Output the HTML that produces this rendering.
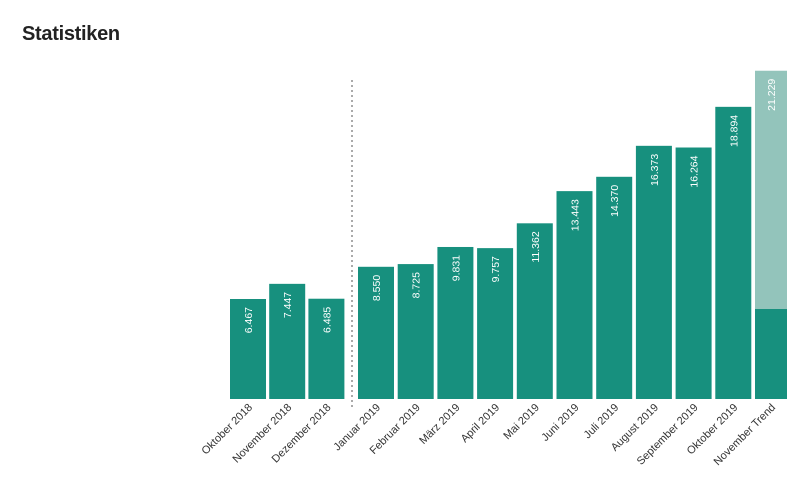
<!DOCTYPE html>
<html><head><meta charset="utf-8"><style>
body{margin:0;background:#fff;font-family:"Liberation Sans",sans-serif;}
h1{position:absolute;left:22px;top:23px;margin:0;font-size:20px;font-weight:bold;color:#222;letter-spacing:-0.3px}
</style></head><body>
<h1>Statistiken</h1>
<svg id="c" width="800" height="500" style="position:absolute;left:0;top:0"></svg>
<script>
const categories=["Oktober 2018","November 2018","Dezember 2018","Januar 2019","Februar 2019","März 2019","April 2019","Mai 2019","Juni 2019","Juli 2019","August 2019","September 2019","Oktober 2019","November Trend"];
const values=[6467,7447,6485,8550,8725,9831,9757,11362,13443,14370,16373,16264,18894,21229];
const labels=["6.467","7.447","6.485","8.550","8.725","9.831","9.757","11.362","13.443","14.370","16.373","16.264","18.894","21.229"];
const trendCurrent=[5820];
const svg=document.getElementById('c');const NS='http://www.w3.org/2000/svg';
const base=399,scale=100/6467;
function y(v){return base-v*scale;}
function x(i){return i<3?230+i*39.2:358+(i-3)*39.7;}
const bw=36;
function mk(t,a){const e=document.createElementNS(NS,t);for(const k in a)e.setAttribute(k,a[k]);svg.appendChild(e);return e;}
const sep=mk('line',{x1:352,x2:352,y1:80,y2:410,stroke:'#aaa','stroke-width':2,'stroke-dasharray':'2,3'});


values.forEach((v,i)=>{
 const trend=i===values.length-1;
 const w=trend?32:bw;
 const r=mk('rect',{x:x(i),y:y(v),width:w,height:base-y(v),fill:trend?'#93c4bb':'#17907e'});
 
 
 if(trend){const r2=mk('rect',{x:x(i),y:y(trendCurrent[0]),width:w,height:base-y(trendCurrent[0]),fill:'#17907e'});
  
  }
 const cx=x(i)+w/2+4,ty=y(v)+8;
 const t=mk('text',{x:0,y:0,transform:`translate(${cx},${ty}) rotate(-90)`,fill:'#fff','font-size':10.5,'text-anchor':'end'});
 t.textContent=labels[i];
 
 
 const lx=x(i)+w/2+5,ly=base+9;
 const c=mk('text',{x:0,y:0,transform:`translate(${lx},${ly}) rotate(-45)`,fill:'#333','font-size':11,'text-anchor':'end'});
 c.textContent=categories[i];
 
 
});
</script>
</body></html>
